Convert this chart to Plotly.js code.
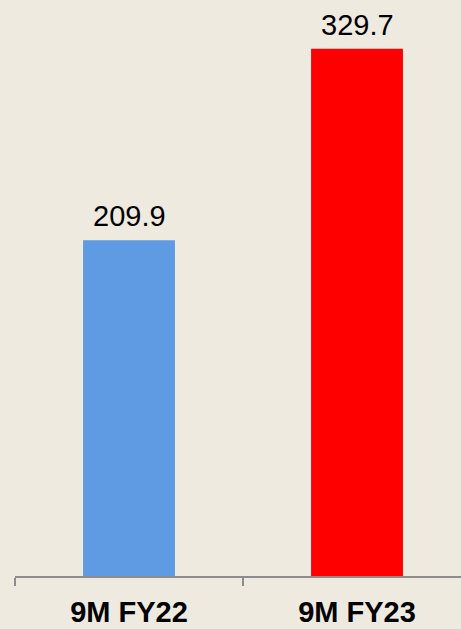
<!DOCTYPE html>
<html>
<head>
<meta charset="utf-8">
<script src="https://cdn.plot.ly/plotly-3.0.1.min.js"></script>
<style>
  html, body { margin: 0; padding: 0; background: #EEEAE0; }
  #chart { width: 461px; height: 629px; }
</style>
</head>
<body>
<div id="chart"></div>
<script>
// periods and values
const periods = ['9M FY22', '9M FY23'];
const values = [209.9, 329.7];
const barColors = ['#5E9BE2', '#FF0000'];

const bg = '#EEEAE0';

const data = [{
    type: 'bar',
    x: periods,
    y: values,
    width: 0.403,
    marker: { color: barColors, line: { width: 0 } },
    hoverinfo: 'skip',
}];

const annotations = periods.map((p, i) => ({
    x: p,
    y: values[i],
    xref: 'x', yref: 'y',
    text: values[i].toFixed(1),
    showarrow: false,
    yanchor: 'bottom',
    yshift: 6,
    font: { family: 'Liberation Sans, Arial, sans-serif', size: 29, color: '#000' },
}));

const layout = {
    width: 461,
    height: 629,
    paper_bgcolor: bg,
    plot_bgcolor: bg,
    margin: { t: 0, r: 0, b: 53, l: 15 },
    showlegend: false,
    xaxis: {
        type: 'category',
        range: [-0.5, 1.456],
        showline: true,
        linecolor: '#8C8C8C',
        linewidth: 2,
        ticks: 'outside',
        tickson: 'boundaries',
        ticklen: 8,
        tickwidth: 2,
        tickcolor: '#8C8C8C',
        showgrid: false,
        zeroline: false,
        tickfont: { family: 'Liberation Sans, Arial, sans-serif', size: 29, color: '#000', weight: 'bold' },
        ticklabelstandoff: 9,
    },
    yaxis: {
        range: [0, 360.1],
        visible: false,
        showgrid: false,
        zeroline: false,
    },
    annotations,
};

Plotly.newPlot('chart', data, layout, { displayModeBar: false, staticPlot: true });
</script>
</body>
</html>
